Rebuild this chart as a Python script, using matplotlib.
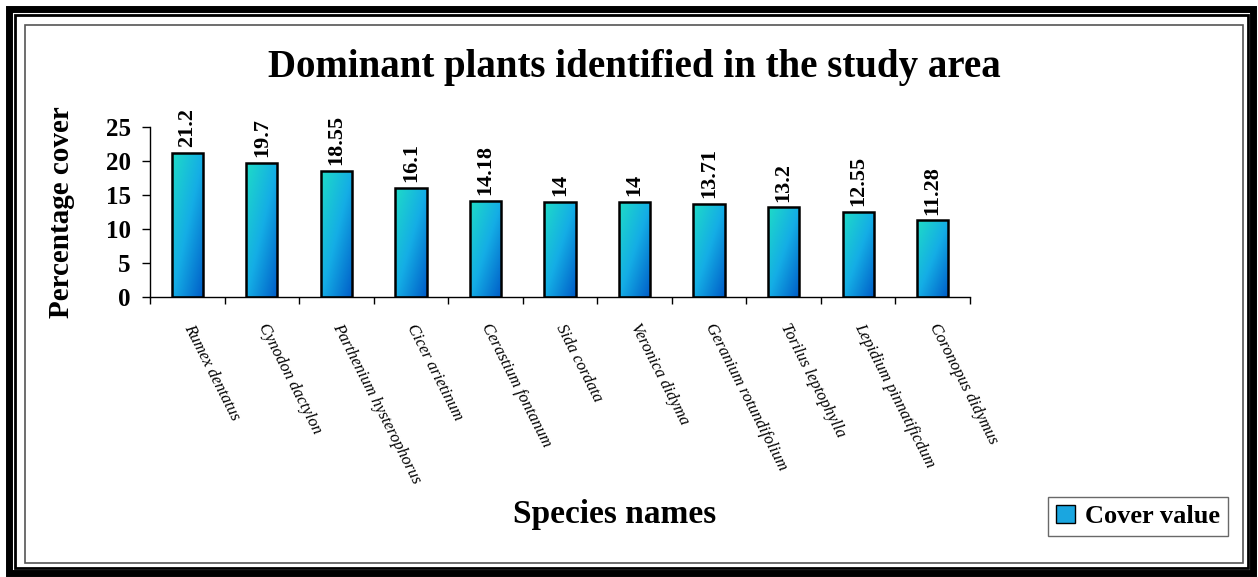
import numpy as np
import matplotlib
matplotlib.use("Agg")
import matplotlib.pyplot as plt
from matplotlib.patches import Rectangle, Patch
from matplotlib.colors import LinearSegmentedColormap

# Données
species = ["Rumex dentatus", "Cynodon dactylon", "Parthenium hysterophorus",
           "Cicer arietinum", "Cerastium fontanum", "Sida cordata",
           "Veronica didyma", "Geranium rotundifolium", "Torilus leptophylla",
           "Lepidium pinnatificdum", "Coronopus didymus"]
cover = [21.2, 19.7, 18.55, 16.1, 14.18, 14, 14, 13.71, 13.2, 12.55, 11.28]
value_labels = ["21.2", "19.7", "18.55", "16.1", "14.18", "14", "14",
                "13.71", "13.2", "12.55", "11.28"]

W, H = 1258, 577
plt.rcParams['font.family'] = ['Liberation Serif', 'DejaVu Serif']
fig = plt.figure(figsize=(W / 100, H / 100), dpi=100)

def px(x0, y0, x1, y1):
    # rectangle en pixels (origine en haut à gauche) -> fraction de figure
    return (x0 / W, 1 - y1 / H), (x1 - x0) / W, (y1 - y0) / H

# cadres
for (x0, y0, x1, y1), lw, col in [((9, 9, 1253, 573), 5.0, "black"),
                                   ((14.5, 14.5, 1247.5, 567.5), 2.0, "black"),
                                   ((24.5, 24.5, 1243, 563), 1.2, "#555555")]:
    xy, w, h = px(x0, y0, x1, y1)
    fig.patches.append(Rectangle(xy, w, h, transform=fig.transFigure,
                                 fill=False, lw=lw, ec=col, zorder=0))

ax = fig.add_axes([150 / W, 1 - 297 / H, 820 / W, 170 / H])
x = np.arange(len(species))
bars = ax.bar(x, cover, width=0.42, color="none", edgecolor="black",
              linewidth=1.8, zorder=3)

# dégradé des barres
cmap = LinearSegmentedColormap.from_list(
    "cv", [(0.12, 0.86, 0.78), (0.08, 0.68, 0.90), (0.0, 0.36, 0.78)])
gx, gy = np.meshgrid(np.linspace(0, 1, 60), np.linspace(0, 1, 60))
grad = 0.5 * gx + 0.5 * gy
for b in bars:
    im = ax.imshow(grad, cmap=cmap, aspect="auto", origin="upper",
                   extent=[b.get_x(), b.get_x() + b.get_width(), 0, b.get_height()],
                   zorder=2, interpolation="bilinear")
    im.set_clip_path(b)

for xi, v, lab in zip(x, cover, value_labels):
    ax.annotate(lab, (xi, v), xytext=(0, 4), textcoords="offset points",
                rotation=90, ha="center", va="bottom", fontsize=16,
                fontweight="bold")

ax.set_xlim(-0.5, len(species) - 0.5)
ax.set_ylim(0, 25)
ax.set_yticks([0, 5, 10, 15, 20, 25])
ax.tick_params(axis="y", labelsize=18, width=1, length=6, direction="out", pad=8)
for t in ax.get_yticklabels():
    t.set_fontweight("bold")
ax.set_xticks(x)
ax.set_xticklabels(species, rotation=-63, rotation_mode="anchor",
                   ha="left", va="center", fontsize=12, style="italic")
ax.tick_params(axis="x", which="major", length=0, pad=20)
ax.set_xticks(np.arange(-0.5, len(species)), minor=True)
ax.tick_params(axis="x", which="minor", length=5, width=1)
for s in ["top", "right"]:
    ax.spines[s].set_visible(False)
ax.spines["left"].set_linewidth(1)
ax.spines["bottom"].set_linewidth(1)
ax.set_ylabel("Percentage cover", fontsize=21, fontweight="bold", labelpad=22)

fig.text(634 / W, 1 - 67 / H, "Dominant plants identified in the study area",
         ha="center", va="center", fontsize=28, fontweight="bold")
fig.text(615 / W, 1 - 515 / H, "Species names", ha="center", va="center",
         fontsize=24, fontweight="bold")

leg = fig.legend(handles=[Patch(facecolor="#1aa6e0", edgecolor="black",
                                label="Cover value")],
                 loc="lower right", bbox_to_anchor=(1228 / W, 1 - 536 / H),
                 borderaxespad=0, fancybox=False, edgecolor="#444444",
                 prop={"weight": "bold", "size": 19}, handlelength=0.7,
                 handleheight=0.7, handletextpad=0.4, borderpad=0.3)
leg.get_frame().set_linewidth(1)

fig.savefig("out.png", dpi=100)
